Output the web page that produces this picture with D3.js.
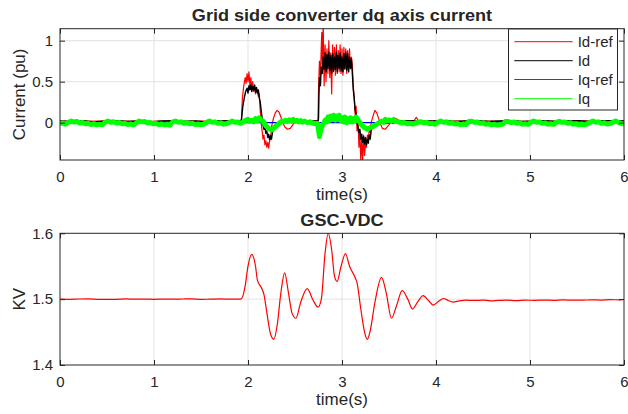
<!DOCTYPE html>
<html><head><meta charset="utf-8">
<script src="https://cdn.jsdelivr.net/npm/d3@7"></script>
<style>
body{margin:0;background:#fff}
text{font-family:"Liberation Sans",Arial,Helvetica,sans-serif;fill:#262626}
</style>
</head><body>
<svg id="c" width="628" height="414"></svg>
<script>
// ---------- data ----------
const xTicks = [0, 1, 2, 3, 4, 5, 6];
const yTicksTop = [0, 0.5, 1];
const yTicksBot = [1.4, 1.5, 1.6];
const legendLabels = ["Id-ref", "Id", "Iq-ref", "Iq"];
const seriesColors = ["#ff0000", "#000000", "#0000ff", "#00ff00"];

// Id-ref [time, pu]
const idRef = [[0,0.015],[0.5,0.02],[1.0,0.015],[1.5,0.02],[1.92,0.02],
 [1.93,0.03],[1.94,0.3],[1.955,0.45],[1.97,0.55],[1.98,0.48],[1.99,0.6],[2.0,0.5],[2.01,0.62],[2.02,0.45],[2.03,0.55],[2.04,0.4],[2.05,0.5],[2.06,0.38],[2.07,0.45],[2.08,0.35],[2.09,0.42],[2.10,0.38],[2.11,0.32],[2.12,0.35],[2.13,0.15],[2.14,0.0],[2.15,-0.1],[2.16,-0.2],[2.17,-0.15],[2.18,-0.27],[2.19,-0.22],[2.20,-0.3],[2.21,-0.24],[2.22,-0.31],[2.23,-0.22],[2.24,-0.2],[2.25,-0.05],[2.27,0.05],[2.29,0.12],[2.31,0.15],[2.33,0.13],[2.35,0.07],[2.37,0.0],[2.39,-0.05],[2.42,-0.08],[2.45,-0.07],[2.48,-0.02],[2.52,0.03],[2.56,0.04],[2.6,0.03],[2.65,0.02],[2.745,0.02],
 [2.75,0.4],[2.76,0.75],[2.77,0.55],[2.78,0.95],[2.785,1.1],[2.79,0.7],[2.80,1.2],[2.81,0.45],[2.82,0.95],[2.83,0.5],[2.84,0.9],[2.85,0.6],[2.86,1.0],[2.87,0.55],[2.88,0.85],[2.89,0.35],[2.90,0.95],[2.91,0.62],[2.92,0.92],[2.93,0.58],[2.94,0.95],[2.95,0.6],[2.96,0.88],[2.97,0.62],[2.98,0.95],[2.99,0.6],[3.00,0.9],[3.01,0.58],[3.02,0.92],[3.03,0.65],[3.04,0.9],[3.05,0.6],[3.06,0.88],[3.07,0.62],[3.08,0.9],[3.09,0.66],[3.10,0.8],[3.11,0.7],[3.12,0.45],[3.13,0.3],[3.14,0.1],[3.15,0.2],[3.16,-0.1],[3.17,0.05],[3.18,-0.3],[3.19,-0.1],[3.20,-0.47],[3.21,-0.2],[3.22,-0.47],[3.23,-0.15],[3.24,-0.4],[3.25,-0.25],[3.26,-0.3],[3.27,-0.15],[3.28,-0.22],[3.29,-0.08],[3.30,-0.12],[3.31,0.0],[3.33,0.08],[3.35,0.15],[3.37,0.12],[3.39,0.05],[3.41,-0.02],[3.43,-0.07],[3.46,-0.08],[3.49,-0.04],[3.52,0.0],[3.56,0.02],[3.58,0.05],[3.61,0.02],[3.7,0.02],[3.77,0.03],[3.79,0.065],[3.81,0.03],[3.9,0.02],[4.5,0.02],[5.0,0.015],[5.5,0.02],[6,0.02]];

// Id [time, pu]
const id = [[0,0.02],[0.12,0.015],[0.24,0.025],[0.36,0.01],[0.48,0.02],[0.6,0.025],[0.72,0.015],[0.84,0.02],[0.96,0.01],[1.08,0.02],[1.2,0.025],[1.32,0.015],[1.44,0.02],[1.56,0.01],[1.68,0.02],[1.8,0.025],[1.9,0.02],
 [1.93,0.03],[1.945,0.2],[1.96,0.3],[1.975,0.38],[1.99,0.42],[2.0,0.36],[2.01,0.45],[2.02,0.40],[2.03,0.46],[2.04,0.38],[2.05,0.44],[2.06,0.40],[2.07,0.46],[2.08,0.37],[2.09,0.43],[2.10,0.36],[2.11,0.40],[2.12,0.30],[2.13,0.25],[2.14,0.15],[2.15,0.06],[2.16,-0.03],[2.17,-0.08],[2.18,-0.05],[2.19,-0.13],[2.20,-0.10],[2.21,-0.18],[2.22,-0.14],[2.23,-0.21],[2.24,-0.16],[2.25,-0.20],[2.26,-0.12],[2.27,-0.08],[2.28,-0.04],[2.30,-0.02],[2.32,0.0],[2.35,0.02],[2.40,0.01],[2.45,0.03],[2.5,0.02],[2.55,0.03],[2.6,0.02],[2.65,0.025],[2.7,0.02],[2.745,0.02],
 [2.75,0.05],[2.755,0.35],[2.76,0.55],[2.77,0.45],[2.78,0.68],[2.79,0.60],[2.80,0.80],[2.81,0.65],[2.82,0.85],[2.83,0.62],[2.84,0.83],[2.85,0.66],[2.86,0.86],[2.87,0.64],[2.88,0.82],[2.89,0.60],[2.90,0.84],[2.91,0.63],[2.92,0.80],[2.93,0.65],[2.94,0.86],[2.95,0.62],[2.96,0.82],[2.97,0.66],[2.98,0.85],[2.99,0.63],[3.00,0.80],[3.01,0.62],[3.02,0.84],[3.03,0.66],[3.04,0.86],[3.05,0.64],[3.06,0.84],[3.07,0.62],[3.08,0.80],[3.09,0.66],[3.10,0.78],[3.11,0.60],[3.12,0.40],[3.13,0.30],[3.14,0.15],[3.15,0.10],[3.16,0.02],[3.17,-0.05],[3.18,-0.12],[3.19,-0.08],[3.20,-0.2],[3.21,-0.14],[3.22,-0.24],[3.23,-0.17],[3.24,-0.26],[3.25,-0.18],[3.26,-0.27],[3.27,-0.2],[3.28,-0.25],[3.29,-0.15],[3.30,-0.2],[3.31,-0.1],[3.32,-0.06],[3.34,-0.02],[3.37,0.0],[3.42,0.01],[3.47,-0.01],[3.52,0.0],[3.56,0.015],[3.6,0.02],
 [3.72,0.025],[3.84,0.015],[3.96,0.02],[4.08,0.025],[4.2,0.015],[4.32,0.02],[4.44,0.025],[4.56,0.015],[4.68,0.02],[4.8,0.025],[4.92,0.015],[5.04,0.02],[5.16,0.025],[5.28,0.015],[5.4,0.02],[5.52,0.025],[5.64,0.015],[5.76,0.02],[5.88,0.025],[6,0.02]];

// Iq-ref [time, pu]
const iqRef = [[0,0],[2.0,0],[3.44,0],[3.48,-0.01],[3.53,-0.008],[3.57,0],[6,0]];

// Iq [time, pu]
const iq = [[0.00,-0.012],[0.03,-0.004],[0.06,-0.018],[0.09,0.004],[0.12,0.02],[0.15,0.008],[0.18,0.014],[0.21,-0.004],[0.24,0.002],[0.27,-0.014],[0.30,-0.008],[0.33,-0.022],[0.36,-0.012],[0.39,-0.026],[0.42,-0.018],[0.45,-0.026],[0.48,0.006],[0.51,0.02],[0.54,0.006],[0.57,0.012],[0.60,-0.004],[0.63,0.002],[0.66,-0.014],[0.69,-0.008],[0.72,-0.022],[0.75,-0.014],[0.78,-0.026],[0.81,-0.006],[0.84,0.02],[0.87,0.01],[0.90,0.014],[0.93,-0.002],[0.96,0.002],[0.99,-0.014],[1.02,-0.008],[1.05,-0.022],[1.08,-0.016],[1.11,-0.028],[1.14,-0.02],[1.17,-0.03],[1.20,0.01],[1.23,0.02],[1.26,0.006],[1.29,0.01],[1.32,-0.006],[1.35,0.0],[1.38,-0.014],[1.41,-0.008],[1.44,-0.022],[1.47,-0.016],[1.50,-0.026],[1.53,-0.016],[1.56,0.004],[1.59,0.02],[1.62,0.006],[1.65,0.01],[1.68,-0.008],[1.71,-0.002],[1.74,-0.018],[1.77,-0.012],[1.80,0.0],[1.83,0.02],[1.86,0.004],[1.89,0.008],[1.92,-0.006],
 [1.95,0.01],[1.97,0.025],[2.00,0.04],[2.02,0.015],[2.04,0.03],[2.06,0.01],[2.08,0.05],[2.10,0.02],[2.12,0.06],[2.14,0.03],[2.16,0.02],[2.19,-0.04],[2.22,-0.07],[2.25,-0.09],[2.28,-0.06],[2.31,-0.03],[2.34,0.0],[2.36,0.02],[2.38,0.01],[2.40,0.03],[2.42,0.015],[2.44,0.035],[2.46,0.02],[2.48,0.04],[2.50,0.015],[2.52,0.03],[2.54,0.01],[2.56,0.025],[2.58,0.005],[2.60,0.02],[2.63,0.0],[2.66,0.01],[2.70,-0.01],[2.74,-0.01],[2.76,-0.17],[2.78,-0.06],[2.80,-0.02],[2.82,0.03],[2.84,0.01],[2.85,0.07],[2.87,0.03],[2.88,0.08],[2.90,0.04],[2.91,0.09],[2.93,0.03],[2.94,0.08],[2.96,0.04],[2.97,0.09],[2.99,0.02],[3.00,0.06],[3.02,0.01],[3.03,0.07],[3.05,0.0],[3.06,0.05],[3.08,0.01],[3.09,0.06],[3.11,0.01],[3.12,0.05],[3.14,0.02],[3.15,0.07],[3.18,0.02],[3.21,-0.03],[3.24,-0.06],[3.27,-0.08],[3.30,-0.06],[3.34,-0.04],[3.38,-0.01],[3.42,0.02],[3.44,0.005],[3.46,0.04],[3.48,0.02],[3.50,0.035],[3.52,0.015],[3.55,0.04],[3.57,0.02],
 [3.60,0.01],[3.63,-0.004],[3.66,0.002],[3.69,-0.012],[3.72,-0.006],[3.75,-0.018],[3.78,-0.008],[3.81,0.006],[3.84,0.012],[3.87,-0.002],[3.90,0.002],[3.93,-0.014],[3.96,-0.008],[3.99,-0.02],[4.02,0.006],[4.05,0.02],[4.08,0.006],[4.11,0.01],[4.14,-0.006],[4.17,0.0],[4.20,-0.016],[4.23,-0.01],[4.26,-0.024],[4.29,-0.016],[4.32,-0.022],[4.35,0.014],[4.38,0.018],[4.41,0.004],[4.44,0.008],[4.47,-0.008],[4.50,-0.002],[4.53,-0.018],[4.56,-0.012],[4.59,-0.026],[4.62,-0.018],[4.65,-0.03],[4.68,-0.022],[4.71,-0.02],[4.74,0.016],[4.77,0.014],[4.80,0.002],[4.83,0.008],[4.86,-0.008],[4.89,-0.002],[4.92,-0.018],[4.95,-0.012],[4.98,-0.02],[5.01,0.008],[5.04,0.02],[5.07,0.004],[5.10,0.01],[5.13,-0.008],[5.16,-0.002],[5.19,-0.018],[5.22,-0.012],[5.25,-0.02],[5.28,0.004],[5.31,0.018],[5.34,0.004],[5.37,0.008],[5.40,-0.008],[5.43,-0.002],[5.46,-0.018],[5.49,-0.012],[5.52,-0.026],[5.55,-0.02],[5.58,-0.026],[5.61,-0.012],[5.64,0.004],[5.67,0.02],[5.70,0.006],[5.73,0.01],[5.76,-0.008],[5.79,-0.002],[5.82,-0.016],[5.85,-0.01],[5.88,0.004],[5.91,0.02],[5.94,0.004],[5.97,-0.008],[6.00,-0.014]];

// GSC-VDC [time, kV]
const vdc = [[0,1.5],[0.1,1.4998],[0.2,1.5002],[0.3,1.5004],[0.4,1.4998],[0.5,1.4996],[0.6,1.4998],[0.7,1.5003],[0.8,1.4999],[0.9,1.5001],[1.0,1.4997],[1.1,1.5001],[1.2,1.5],[1.3,1.5002],[1.4,1.5005],[1.5,1.4998],[1.6,1.4999],[1.7,1.5004],[1.8,1.4999],[1.9,1.5],[1.93,1.5005],
 [1.97,1.52],[2.0,1.55],[2.04,1.568],[2.08,1.55],[2.1,1.529],[2.144,1.517],[2.17,1.507],[2.2,1.48],[2.24,1.447],[2.275,1.439],[2.31,1.46],[2.35,1.51],[2.39,1.540],[2.43,1.51],[2.47,1.478],[2.51,1.471],[2.56,1.495],[2.63,1.516],[2.69,1.499],[2.746,1.488],[2.78,1.5],[2.82,1.57],[2.853,1.600],[2.89,1.575],[2.92,1.535],[2.948,1.527],[2.99,1.55],[3.037,1.569],[3.08,1.55],[3.136,1.534],[3.16,1.525],[3.2,1.485],[3.24,1.45],[3.27,1.439],[3.3,1.452],[3.35,1.495],[3.42,1.533],[3.47,1.51],[3.526,1.471],[3.58,1.49],[3.64,1.513],[3.7,1.5],[3.75,1.485],[3.81,1.497],[3.863,1.5055],[3.92,1.498],[3.97,1.491],[4.03,1.497],[4.08,1.501],[4.13,1.498],[4.18,1.4955],
 [4.25,1.4975],[4.32,1.4985],[4.4,1.498],[4.5,1.4985],[4.58,1.4975],[4.66,1.498],[4.75,1.4985],[4.85,1.4978],[4.95,1.4985],[5.05,1.4982],[5.15,1.4986],[5.25,1.4982],[5.35,1.4988],[5.45,1.4985],[5.55,1.4984],[5.65,1.499],[5.75,1.4986],[5.85,1.4992],[5.95,1.499],[6,1.4995]];

// ---------- drawing ----------
const svg = d3.select("#c");
svg.append("rect").attr("width",628).attr("height",414).attr("fill","#fff");
const AX = {left:60, right:624};
const ink = "#262626";

function panel(opt){
  const x = d3.scaleLinear().domain([0,6]).range([AX.left, AX.right]);
  const y = d3.scaleLinear().domain(opt.yDomain).range([opt.bottom, opt.top]);
  const g = svg.append("g");
  const cid = "clip" + opt.id;
  svg.append("clipPath").attr("id", cid).append("rect")
    .attr("x", AX.left).attr("y", opt.top).attr("width", AX.right-AX.left).attr("height", opt.bottom-opt.top);
  g.append("rect").attr("x",AX.left).attr("y",opt.top).attr("width",AX.right-AX.left).attr("height",opt.bottom-opt.top).attr("fill","#fff");
  // grid
  g.append("g").selectAll("line").data(xTicks.slice(1,-1)).join("line")
    .attr("x1",d=>x(d)).attr("x2",d=>x(d)).attr("y1",opt.top).attr("y2",opt.bottom)
    .attr("stroke","#e3e3e3").attr("stroke-width",1);
  g.append("g").selectAll("line").data(opt.yTicks.filter(v=>v>opt.yDomain[0]+1e-9 && v<opt.yDomain[1]-1e-9)).join("line")
    .attr("x1",AX.left).attr("x2",AX.right).attr("y1",d=>y(d)).attr("y2",d=>y(d))
    .attr("stroke","#e3e3e3").attr("stroke-width",1);
  // series
  const line = d3.line().x(d=>x(d[0])).y(d=>y(d[1])).curve(opt.curve || d3.curveLinear);
  const pg = g.append("g").attr("clip-path","url(#"+cid+")");
  opt.series.forEach(s=>{
    pg.append("path").datum(s.data).attr("d",line).attr("fill","none")
      .attr("stroke",s.color).attr("stroke-width",s.width).attr("stroke-linejoin","round");
  });
  // axes
  const ax = g.append("g").attr("transform",`translate(0,${opt.bottom})`)
    .call(d3.axisBottom(x).tickValues(xTicks).tickSizeInner(-5).tickSizeOuter(0).tickPadding(11).tickFormat(d3.format("d")));
  const axT = g.append("g").attr("transform",`translate(0,${opt.top})`)
    .call(d3.axisTop(x).tickValues(xTicks).tickSizeInner(-5).tickSizeOuter(0).tickFormat(""));
  const ay = g.append("g").attr("transform",`translate(${AX.left},0)`)
    .call(d3.axisLeft(y).tickValues(opt.yTicks).tickSizeInner(-5).tickSizeOuter(0).tickPadding(7).tickFormat(opt.fmt));
  const ayR = g.append("g").attr("transform",`translate(${AX.right},0)`)
    .call(d3.axisRight(y).tickValues(opt.yTicks).tickSizeInner(-5).tickSizeOuter(0).tickFormat(""));
  [ax,axT,ay,ayR].forEach(a=>{
    a.select(".domain").remove();
    a.selectAll(".tick line").attr("stroke",ink);
    a.selectAll("text").attr("fill",ink).style("font-size","15px").style("font-family",'"Liberation Sans",Arial,sans-serif');
  });
  g.append("rect").attr("x",AX.left).attr("y",opt.top).attr("width",AX.right-AX.left).attr("height",opt.bottom-opt.top)
    .attr("fill","none").attr("stroke",ink).attr("stroke-width",1);
  // title
  svg.append("text").attr("transform",`translate(${(AX.left+AX.right)/2},${opt.titleY}) scale(1.13,1)`)
    .attr("text-anchor","middle").style("font-size","16px").style("font-weight","bold").attr("fill","#000").text(opt.title);
  // x label
  svg.append("text").attr("x",(AX.left+AX.right)/2).attr("y",opt.bottom+40)
    .attr("text-anchor","middle").style("font-size","17px").text("time(s)");
  // y label
  svg.append("text").attr("transform",`translate(25,${(opt.top+opt.bottom)/2}) rotate(-90)`)
    .attr("text-anchor","middle").style("font-size","17px").text(opt.ylabel);
  return {x,y};
}

panel({id:1, top:28.7, bottom:160, yDomain:[-0.455,1.146], yTicks:yTicksTop,
  fmt:d=>String(d), title:"Grid side converter dq axis current", titleY:20.7, ylabel:"Current (pu)",
  series:[
    {data:idRef, color:seriesColors[0], width:1.2},
    {data:id, color:seriesColors[1], width:1.4},
    {data:iqRef, color:seriesColors[2], width:1.2},
    {data:iq, color:seriesColors[3], width:5}
  ]});

panel({id:2, top:233.3, bottom:365, yDomain:[1.4,1.6], yTicks:yTicksBot,
  fmt:d3.format(".1f"), title:"GSC-VDC", titleY:226, ylabel:"KV", curve:d3.curveMonotoneX,
  series:[{data:vdc, color:"#ff0000", width:1.2}]});

// legend
const lg = svg.append("g");
lg.append("rect").attr("x",508.5).attr("y",29).attr("width",109).attr("height",81)
  .attr("fill","#fff").attr("stroke",ink).attr("stroke-width",1);
const rows = [41.7, 60.7, 79.5, 98.7];
legendLabels.forEach((lab,i)=>{
  lg.append("line").attr("x1",514.3).attr("x2",572.7).attr("y1",rows[i]).attr("y2",rows[i])
    .attr("stroke",seriesColors[i]).attr("stroke-width",1.2).attr("opacity",0.8);
  lg.append("text").attr("x",577.7).attr("y",rows[i]+5.3).style("font-size","15px").text(lab);
});
</script>
</body></html>
